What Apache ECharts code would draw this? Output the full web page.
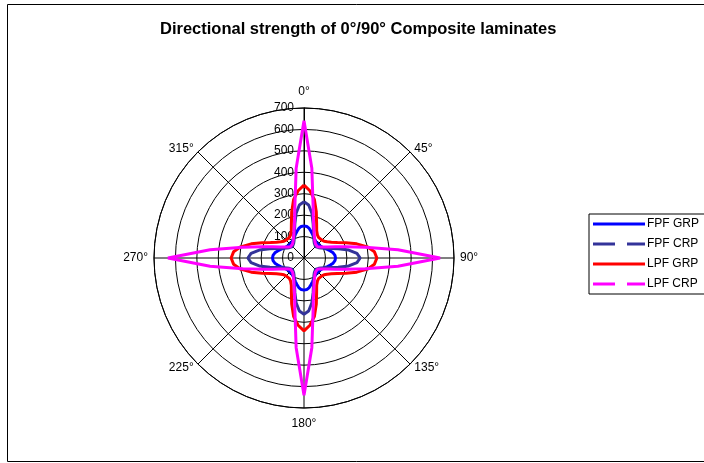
<!DOCTYPE html>
<html>
<head>
<meta charset="utf-8">
<script src="https://cdn.jsdelivr.net/npm/echarts@6/dist/echarts.min.js"></script>
<style>
  html, body { margin: 0; padding: 0; background: #fff; }
  #chart { width: 704px; height: 463px; }
</style>
</head>
<body>
<div id="chart"></div>
<script>
// angles in degrees, one point every 5 degrees, 0 at the top, clockwise
const angles = [];
for (let a = 0; a <= 360; a += 5) angles.push(a);

const seriesNames = ['FPF GRP', 'FPF CRP', 'LPF GRP', 'LPF CRP'];

// values (same order as angles)
const fpfGrp = [
  150,148,140,128,117,107,100,95,92,91,92,95,100,107,116,127,138,145,
  147,145,138,127,116,107,100,95,92,91,92,95,100,107,117,128,140,148,
  150,148,140,128,117,107,100,95,92,91,92,95,100,107,116,127,138,145,
  147,145,138,127,116,107,100,95,92,91,92,95,100,107,117,128,140,148,
  150
];
const fpfCrp = [
  262,248,212,165,130,107,93,84,78,76,78,84,93,107,130,165,212,248,
  262,248,212,165,130,107,93,84,78,76,78,84,93,107,130,165,212,248,
  262,248,212,165,130,107,93,84,78,76,78,84,93,107,130,165,212,248,
  262,248,212,165,130,107,93,84,78,76,78,84,93,107,130,165,212,248,
  262
];
const lpfGrp = [
  340,315,278,222,172,140,125,118,117,118,122,132,148,172,208,255,300,330,
  340,330,300,255,208,172,148,132,122,118,117,118,125,140,172,222,278,315,
  340,315,278,222,172,140,125,118,117,118,122,132,148,172,208,255,300,330,
  340,330,300,255,208,172,148,132,122,118,117,118,125,140,172,222,278,315,
  340
];
const lpfCrp = [
  640,420,245,172,136,114,100,90,84,80,82,90,103,122,155,205,290,440,
  635,440,290,205,155,122,103,90,82,80,84,90,100,114,136,172,245,420,
  640,420,245,172,136,114,100,90,84,80,82,90,103,122,155,205,290,440,
  635,440,290,205,155,122,103,90,82,80,84,90,100,114,136,172,245,420,
  640
];

const colors = ['#0000ff', '#333399', '#ff0000', '#ff00ff'];
const legendIcons = [
  'path://M0,0h52v3h-52z',
  'path://M0,0h22v3h-22z M34,0h18v3h-18z',
  'path://M0,0h52v3h-52z',
  'path://M0,0h22v3h-22z M34,0h18v3h-18z'
];
const values = [fpfGrp, fpfCrp, lpfGrp, lpfCrp];

const font = 'Arial, "Liberation Sans", sans-serif';
const chart = echarts.init(document.getElementById('chart'));

const series = seriesNames.map((name, i) => ({
  name: name,
  type: 'line',
  coordinateSystem: 'polar',
  symbol: 'none',
  smooth: false,
  animation: false,
  data: values[i].map((v, k) => [v, angles[k]]),
  lineStyle: { color: colors[i], width: 3 },
  itemStyle: { color: colors[i] }
}));

// which rich style nudges each angle label
function angleLabel(v) {
  if (v === 360) return '';
  const t = v + '°';
  if (v === 0) return '{up|' + t + '}';
  if (v === 180) return '{down|' + t + '}';
  if (v === 45 || v === 315) return '{dtop|' + t + '}';
  if (v === 135 || v === 225) return '{dbot|' + t + '}';
  return t;
}

chart.setOption({
  animation: false,
  title: {
    text: 'Directional strength of 0°/90° Composite laminates',
    left: 160,
    top: 21,
    padding: 0,
    textStyle: { fontFamily: font, fontSize: 16.5, fontWeight: 'bold', color: '#000' }
  },
  graphic: [{
    type: 'rect',
    shape: { x: 7.5, y: 4.5, width: 720, height: 457 },
    style: { fill: 'none', stroke: '#000', lineWidth: 1 },
    silent: true
  }],
  legend: {
    orient: 'vertical',
    left: 589,
    top: 214,
    padding: [4, 40, 4, 4],
    itemWidth: 52,
    itemHeight: 14,
    itemGap: 8,
    borderColor: '#000',
    borderWidth: 1,
    backgroundColor: '#fff',
    textStyle: { fontFamily: font, fontSize: 12, color: '#000', padding: [0, 0, 0, -3] },
    data: seriesNames.map((n, i) => ({ name: n, icon: legendIcons[i] }))
  },
  polar: {
    center: [304, 258],
    radius: 150
  },
  angleAxis: {
    type: 'value',
    min: 0,
    max: 360,
    interval: 45,
    startAngle: 90,
    clockwise: true,
    axisLine: { lineStyle: { color: '#000', width: 1 } },
    axisTick: { show: false },
    axisLabel: {
      margin: 6,
      fontFamily: font,
      fontSize: 12,
      color: '#000',
      formatter: angleLabel,
      rich: {
        up: { fontFamily: font, fontSize: 12, color: '#000', padding: [0, 0, 4, 0] },
        down: { fontFamily: font, fontSize: 12, color: '#000', padding: [4, 0, 0, 0] },
        dtop: { fontFamily: font, fontSize: 12, color: '#000', padding: [0, 0, -7, 0] },
        dbot: { fontFamily: font, fontSize: 12, color: '#000', padding: [-7, 0, 0, 0] }
      }
    },
    splitLine: { show: true, lineStyle: { color: '#000', width: 1 } }
  },
  radiusAxis: {
    type: 'value',
    min: 0,
    max: 700,
    interval: 100,
    z: 3,
    axisLine: { show: true, lineStyle: { color: '#000', width: 1 } },
    axisTick: { show: false },
    axisLabel: {
      fontFamily: font,
      fontSize: 12,
      color: '#000',
      margin: 10
    },
    splitLine: { show: true, lineStyle: { color: '#000', width: 1 } }
  },
  series: series
});
</script>
</body>
</html>
